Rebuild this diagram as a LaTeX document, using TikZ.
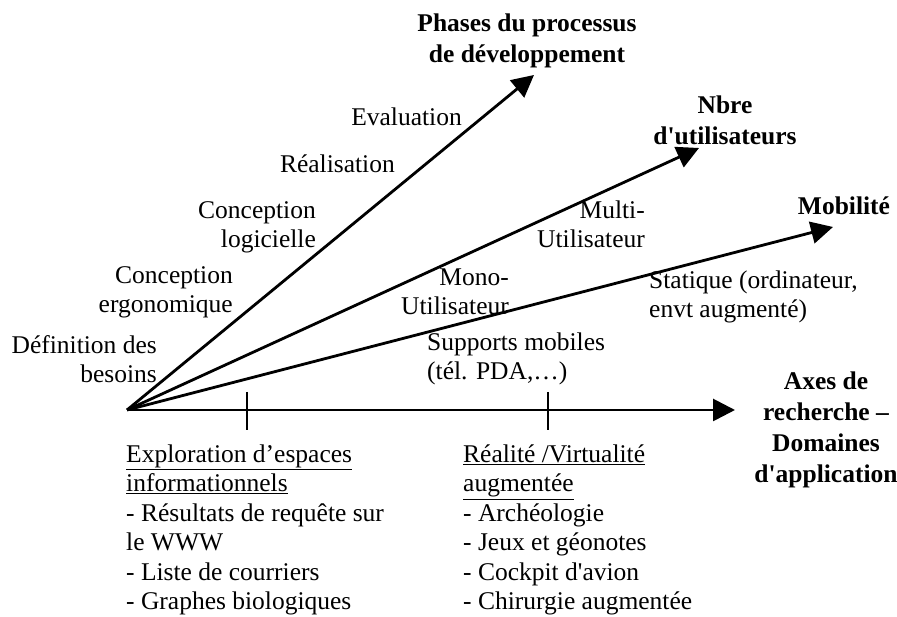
\documentclass[tikz,border=0pt]{standalone}
\usepackage{fontspec}
\setmainfont{Liberation Serif}[Ligatures=TeXOff]
\usetikzlibrary{arrows.meta}

\tikzset{
    axe/.style={line width=2.8pt, -{Triangle[length=22pt, width=22pt]}},
    graduation/.style={line width=2.2pt},
    libelle/.style={font=\fontsize{25.5}{29.5}\selectfont, inner sep=0pt},
    titre/.style={font=\fontsize{25.5}{31}\selectfont\bfseries, inner sep=0pt, align=center}
}

\begin{document}
\begin{tikzpicture}[x=1pt, y=1pt]
        \useasboundingbox (0, 0) rectangle (897, 617);

        % Coordinates
        \coordinate (origine) at (127, 207);
        \coordinate (bout phases) at (534, 542);
        \coordinate (bout nbre) at (699, 469);
        \coordinate (bout mobilite) at (833, 390);
        \coordinate (bout axes) at (735, 207);
        \coordinate (grad1 haut) at (247, 225);
        \coordinate (grad1 bas) at (247, 187);
        \coordinate (grad2 haut) at (548, 225);
        \coordinate (grad2 bas) at (548, 187);

        % Titles (base = last line)
        \node[titre, anchor=base] (phases) at (527, 554) {Phases du processus\\de développement};
        \node[titre, anchor=base] (nbre) at (725, 472) {Nbre\\d'utilisateurs};
        \node[titre, anchor=base] (mobilite) at (844, 402) {Mobilité};
        \node[titre, anchor=base] (axes) at (826, 134) {Axes de\\recherche –\\Domaines\\d'application};

        % Phases
        \node[libelle, anchor=base east] (evaluation) at (462, 491) {Evaluation};
        \node[libelle, anchor=base east] (realisation) at (395, 444) {Réalisation};
        \node[libelle, anchor=base east, align=right] (logicielle) at (316, 369) {Conception\\logicielle};
        \node[libelle, anchor=base east, align=right] (ergonomique) at (233, 304) {Conception\\ergonomique};
        \node[libelle, anchor=base east, align=right] (besoins) at (157, 234) {Définition des\\besoins};

        % Utilisateurs and mobilite
        \node[libelle, anchor=base east, align=right] (multi) at (645, 369) {Multi-\\Utilisateur};
        \node[libelle, anchor=base east, align=right] (mono) at (509, 302) {Mono-\\Utilisateur};
        \node[libelle, anchor=base west, align=left] (statique) at (649, 299) {Statique (ordinateur,\\envt augmenté)};
        \node[libelle, anchor=base west, align=left] (supports) at (427, 237) {Supports mobiles\\(tél. PDA,…)};

        % Domaines
        \node[libelle, anchor=base west, align=left] (exploration) at (126, 7)
            {\underline{Exploration d’espaces}\\\underline{informationnels}\\- Résultats de requête sur\\le WWW\\- Liste de courriers\\- Graphes biologiques};
        \node[libelle, anchor=base west, align=left] (realite) at (463, 7)
            {\underline{Réalité /Virtualité}\\\underline{augmentée}\\- Archéologie\\- Jeux et géonotes\\- Cockpit d'avion\\- Chirurgie augmentée};

        % Lines
        \draw[axe] (origine) -- (bout phases);
        \draw[axe] (origine) -- (bout nbre);
        \draw[axe] (origine) -- (bout mobilite);
        \draw[axe] (origine) -- (bout axes);
        \draw[graduation] (grad1 haut) -- (grad1 bas);
        \draw[graduation] (grad2 haut) -- (grad2 bas);
    \end{tikzpicture}
\end{document}
